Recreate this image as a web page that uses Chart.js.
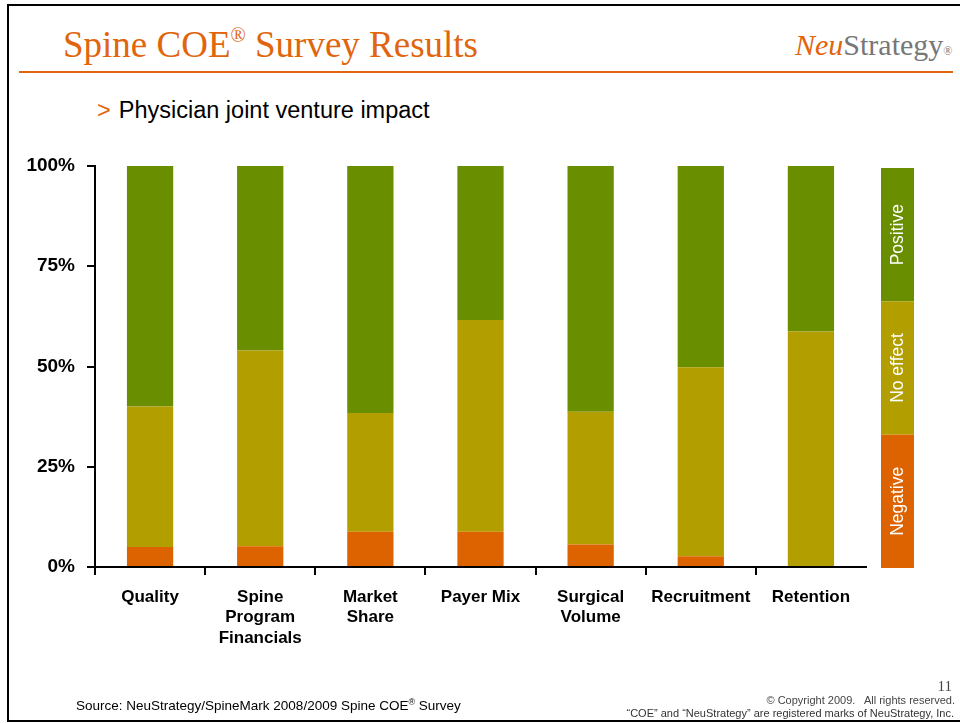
<!DOCTYPE html>
<html>
<head>
<meta charset="utf-8">
<script src="https://cdn.jsdelivr.net/npm/chart.js@4.4.1/dist/chart.umd.min.js"></script>
<style>
  html, body { margin: 0; padding: 0; background: #fff; }
  body { width: 960px; height: 723px; position: relative; overflow: hidden; font-family: "Liberation Sans", Arial, sans-serif; }
  #frame { position: absolute; left: 7px; top: 4px; width: 980px; height: 714px; border-left: 2px solid #000; border-top: 2px solid #000; border-bottom: 2px solid #000; }
  #rule { position: absolute; left: 19px; top: 71px; width: 934px; height: 2px; background: #E0650C; }
  #title { position: absolute; left: 63px; top: 22px; font-family: "Liberation Serif", "Times New Roman", serif; font-size: 37px; color: #E0650C; white-space: nowrap; line-height: 46px; }
  #title sup { font-size: 20px; vertical-align: 15px; line-height: 0; }
  #brand { position: absolute; left: 795px; top: 27px; font-family: "Liberation Serif", "Times New Roman", serif; font-size: 30px; white-space: nowrap; line-height: 36px; }
  #brand .neu { color: #E0650C; font-style: italic; }
  #brand .str { color: #777; }
  #brand .r { color: #777; font-size: 12px; }
  #sub { position: absolute; left: 97px; top: 96px; font-size: 23.5px; color: #000; white-space: nowrap; line-height: 28px; }
  #sub .gt { color: #E0650C; margin-right: 8px; }
  #source { position: absolute; left: 76px; top: 698px; font-size: 13.5px; color: #000; white-space: nowrap; line-height: 16px; }
  #source sup { font-size: 9px; vertical-align: 5px; line-height: 0; }
  #pagenum { position: absolute; right: 8px; top: 678px; font-family: "Liberation Serif", serif; font-size: 15px; color: #444; line-height: 16px; }
  #copy { position: absolute; right: 5px; top: 694px; font-size: 11px; color: #444; white-space: pre; line-height: 13px; }
  #marks { position: absolute; right: 6px; top: 707px; font-size: 11px; color: #333; white-space: nowrap; line-height: 13px; }
  #chartwrap { position: absolute; left: 0; top: 0; width: 960px; height: 723px; }
</style>
</head>
<body>
<div id="frame"></div>
<div id="rule"></div>
<div id="title">Spine COE<sup>®</sup> Survey Results</div>
<div id="brand"><span class="neu">Neu</span><span class="str">Strategy</span><span class="r">®</span></div>
<div id="sub"><span class="gt">&gt;</span>Physician joint venture impact</div>
<div id="chartwrap"><canvas id="c" width="960" height="723"></canvas></div>
<div id="source">Source: NeuStrategy/SpineMark 2008/2009 Spine COE<sup>®</sup> Survey</div>
<div id="pagenum">11</div>
<div id="copy">© Copyright 2009.   All rights reserved.</div>
<div id="marks">“COE” and “NeuStrategy” are registered marks of NeuStrategy, Inc.</div>
<script>
// ---- Data ----
const categories = [
  "Quality",
  ["Spine", "Program", "Financials"],
  ["Market", "Share"],
  "Payer Mix",
  ["Surgical", "Volume"],
  "Recruitment",
  "Retention"
];
const negativeValues = [5.0, 5.2, 8.8, 8.8, 5.6, 2.7, 0];
const noEffectValues = [35.0, 48.8, 29.6, 52.8, 33.1, 47.1, 58.7];
const positiveValues = [60.0, 46.0, 61.6, 38.4, 61.3, 50.2, 41.3];
const yTicks = [0, 25, 50, 75, 100];
const seriesNames = ["Negative", "No effect", "Positive"];
const seriesColors = ["#DD6300", "#B39E00", "#698E00"];

const labelFont = { family: "'Liberation Sans', Arial, sans-serif", weight: "bold" };

const sideLegend = {
  id: "sideLegend",
  afterDraw(chart) {
    const ctx = chart.ctx;
    const area = chart.chartArea;
    const x0 = 881, w = 33;
    const top = area.top + 2, bottom = area.bottom + 1;
    const n = chart.data.datasets.length;
    const h = (bottom - top) / n;
    ctx.save();
    for (let i = 0; i < n; i++) {
      const ds = chart.data.datasets[n - 1 - i];
      const y = top + i * h;
      ctx.fillStyle = ds.backgroundColor;
      ctx.fillRect(x0, y, w, h);
      ctx.save();
      ctx.translate(x0 + w / 2, y + h / 2);
      ctx.rotate(-Math.PI / 2);
      ctx.fillStyle = "#fff";
      ctx.font = "17.5px 'Liberation Sans', Arial, sans-serif";
      ctx.textAlign = "center";
      ctx.textBaseline = "middle";
      ctx.fillText(ds.label, 0, 1);
      ctx.restore();
    }
    ctx.restore();
  }
};

new Chart(document.getElementById("c"), {
  type: "bar",
  data: {
    labels: categories,
    datasets: [
      { label: seriesNames[0], data: negativeValues, backgroundColor: seriesColors[0] },
      { label: seriesNames[1], data: noEffectValues, backgroundColor: seriesColors[1] },
      { label: seriesNames[2], data: positiveValues, backgroundColor: seriesColors[2] }
    ]
  },
  options: {
    responsive: false,
    animation: false,
    layout: { padding: { left: 0, right: 94, top: 166, bottom: 0 } },
    datasets: { bar: { categoryPercentage: 1.0, barPercentage: 0.42, borderWidth: 0 } },
    plugins: { legend: { display: false }, tooltip: { enabled: false }, title: { display: false } },
    scales: {
      x: {
        stacked: true,
        grid: {
          offset: true,
          drawOnChartArea: false,
          drawTicks: true,
          tickLength: 8,
          lineWidth: 2,
          color: (c) => (c.type === "tick" ? "#000" : "rgba(0,0,0,0)")
        },
        border: { display: true, color: "#000", width: 2 },
        ticks: {
          color: "#000",
          font: Object.assign({ size: 17 }, labelFont),
          padding: 12,
          maxRotation: 0,
          autoSkip: false,
          lineHeight: 1.33
        },
        afterFit(scale) { scale.height = 156; }
      },
      y: {
        stacked: true,
        min: 0,
        max: 100,
        afterBuildTicks(scale) { scale.ticks = yTicks.map(v => ({ value: v })); },
        grid: { drawOnChartArea: false, drawTicks: true, tickLength: 8, lineWidth: 2, color: "#000" },
        border: { display: true, color: "#000", width: 2 },
        ticks: {
          color: "#000",
          font: Object.assign({ size: 19 }, labelFont),
          padding: 12,
          callback: (v) => v + "%"
        },
        afterFit(scale) { scale.width = 95; }
      }
    }
  },
  plugins: [sideLegend]
});
</script>
</body>
</html>
